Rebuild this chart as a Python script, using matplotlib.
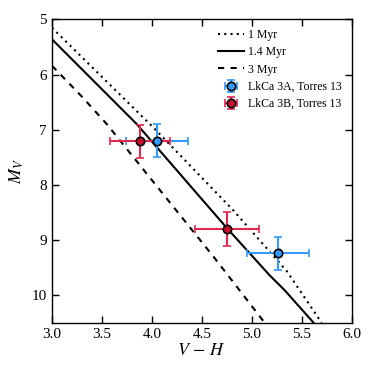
import matplotlib
matplotlib.use("Agg")
import matplotlib.pyplot as plt

plt.rcParams['font.family'] = ['Liberation Serif', 'DejaVu Serif']
plt.rcParams['mathtext.fontset'] = 'stix'

# Isochrones (V-H, M_V)
iso1_x = [3.0, 4.01, 4.81, 5.35, 5.70]
iso1_y = [5.15, 6.95, 8.45, 9.56, 10.5]
iso14_x = [3.0, 3.85, 4.75, 5.18, 5.33, 5.62]
iso14_y = [5.36, 6.90, 8.78, 9.64, 9.91, 10.5]
iso3_x = [3.0, 3.30, 3.55, 4.63, 5.13]
iso3_y = [5.84, 6.40, 6.90, 9.33, 10.5]

# Data points
a_x = [4.05, 5.26]
a_y = [7.20, 9.24]
a_xerr = [0.31, 0.31]
a_yerr = [0.30, 0.30]
b_x = [3.88, 4.75]
b_y = [7.21, 8.80]
b_xerr = [0.30, 0.32]
b_yerr = [0.30, 0.30]

fig = plt.figure(figsize=(3.74, 3.74), dpi=100)
ax = fig.add_axes([0.139, 0.137, 0.801, 0.811])

ax.plot(iso1_x, iso1_y, color='black', ls=(0, (1, 2)), lw=1.5, label='1 Myr')
ax.plot(iso14_x, iso14_y, color='black', ls='-', lw=1.5, label='1.4 Myr')
ax.plot(iso3_x, iso3_y, color='black', ls=(0, (3, 3)), lw=1.5, label='3 Myr')

ax.errorbar(a_x, a_y, xerr=a_xerr, yerr=a_yerr, fmt='o', color='#3399ff',
            mfc='#3399ff', mec='black', mew=1.2, ms=6, elinewidth=1.5,
            capsize=3, capthick=1.5, label='LkCa 3A, Torres 13')
ax.errorbar(b_x, b_y, xerr=b_xerr, yerr=b_yerr, fmt='o', color='#e0284f',
            mfc='#c8102e', mec='black', mew=1.2, ms=6, elinewidth=1.5,
            capsize=3, capthick=1.5, label='LkCa 3B, Torres 13')

ax.set_xlim(3.0, 6.0)
ax.set_ylim(10.5, 5.0)
ax.set_xticks([3.0, 3.5, 4.0, 4.5, 5.0, 5.5, 6.0])
ax.set_yticks([5, 6, 7, 8, 9, 10])
ax.tick_params(direction='in', top=True, right=True, length=5, width=1, labelsize=11)
for s in ax.spines.values():
    s.set_linewidth(1)

ax.set_xlabel(r'$V\,-\,H$', fontsize=13, labelpad=1)
ax.set_ylabel(r'$M_V$', fontsize=13, labelpad=4)

ax.legend(loc='upper right', frameon=False, fontsize=8.5, handlelength=2.2,
          handletextpad=0.4, labelspacing=0.45, borderaxespad=0.4)

fig.savefig('out.png', dpi=100)
